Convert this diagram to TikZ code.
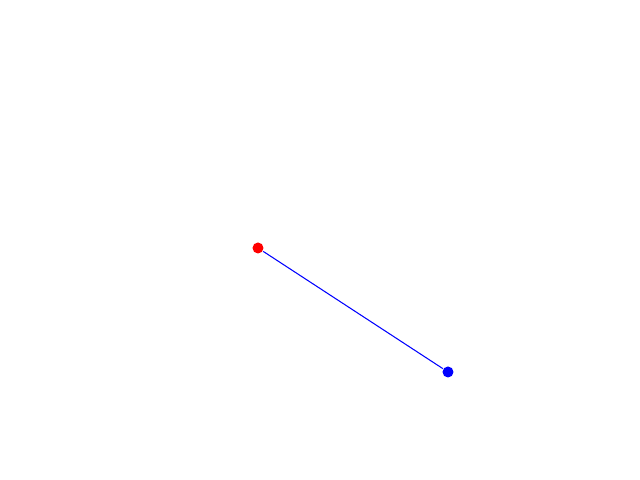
\documentclass[tikz,border=0pt]{standalone}
\usepackage{tikz}

\tikzset{
  dot/.style={circle,inner sep=0pt,minimum size=0.11cm}
}

\begin{document}
\begin{tikzpicture}
\useasboundingbox (0,0) rectangle (6.4,4.8);
\node[dot,fill=red] (start) at (2.58,2.32) {};
\node[dot,fill=blue] (stop) at (4.48,1.08) {};
\draw[blue,line width=0.3pt] (start) -- (stop);
\end{tikzpicture}
\end{document}
